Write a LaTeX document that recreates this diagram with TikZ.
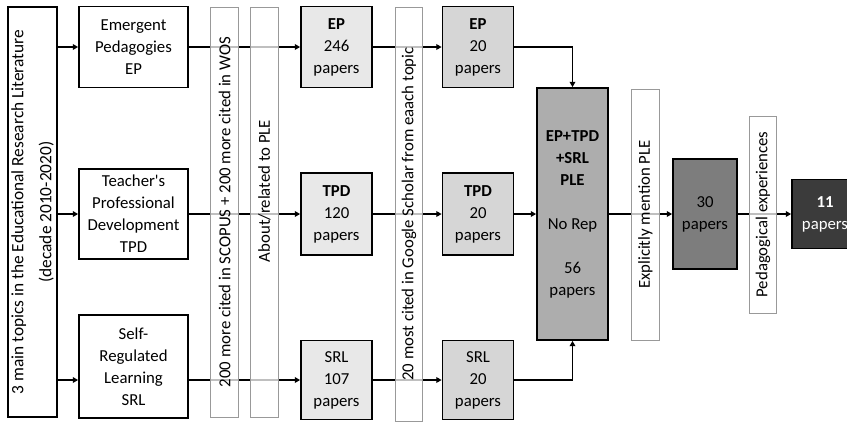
\documentclass[tikz,border=0pt]{standalone}
\usepackage{fontspec}
\setmainfont{Carlito}
\usepackage{tikz}
\usetikzlibrary{positioning, arrows.meta}
\definecolor{boxlight}{gray}{0.91}
\definecolor{boxmid}{gray}{0.84}
\definecolor{boxall}{gray}{0.68}
\definecolor{boxthirty}{gray}{0.49}
\definecolor{boxfinal}{gray}{0.23}
\definecolor{filterline}{gray}{0.6}

\begin{document}
\begin{tikzpicture}[
    stage/.style={
        rectangle,
        draw=black,
        line width=1.5pt,
        fill=white,
        align=center,
        font=\fontsize{14.3}{18.8}\selectfont,
        inner sep=2pt,
    },
    topic/.style={stage, minimum width=3.27cm},
    count/.style={stage, fill=boxlight, minimum width=2.13cm, minimum height=2.43cm},
    pick/.style={count, fill=boxmid},
    filter/.style={
        rectangle,
        draw=filterline,
        line width=0.6pt,
        fill=white,
        fill opacity=0.75,
        text opacity=1,
        rotate=90,
        align=center,
        minimum height=0.82cm,
        font=\fontsize{14.3}{18.8}\selectfont,
    },
    flow/.style={-{Triangle[length=1.6mm, width=1.7mm]}, line width=1.2pt},
    link/.style={line width=1.2pt}
]
\useasboundingbox (0,0) rectangle (25.41,-12.69);

\node[stage, rotate=90, minimum width=12.3cm, minimum height=1.47cm,
      font=\fontsize{14.8}{24}\selectfont] (Lit) at (0.975,-6.36) {%
  3 main topics in the  Educational Research Literature\\
  (decade 2010-2020)%
};

\node[topic, minimum height=2.43cm] (EP) at (4.005,-1.41) {Emergent\\Pedagogies\\EP};
\node[topic, minimum height=2.7cm] (TPD) at (4.005,-6.42) {Teacher\textquotesingle s\\Professional\\Development\\TPD};
\node[topic, minimum height=3.09cm] (SRL) at (4.005,-11.0) {Self-\\Regulated\\Learning\\SRL};

\node[count] (EPa) at (10.095,-1.41) {\textbf{EP}\\246\\papers};
\node[count, minimum height=2.46cm] (TPDa) at (10.095,-6.42) {\textbf{TPD}\\120\\papers};
\node[count, minimum height=2.37cm] (SRLa) at (10.095,-11.4) {SRL\\107\\papers};

\node[pick] (EPb) at (14.34,-1.41) {\textbf{EP}\\20\\papers};
\node[pick, minimum height=2.46cm] (TPDb) at (14.34,-6.42) {\textbf{TPD}\\20\\papers};
\node[pick, minimum height=2.37cm] (SRLb) at (14.34,-11.4) {SRL\\20\\papers};

\node[stage, fill=boxall, minimum width=2.13cm, minimum height=7.56cm] (All) at (17.175,-6.42) {%
  \textbf{EP+TPD}\\\textbf{+SRL}\\\textbf{PLE}\\[18.8pt]
  No Rep\\[18.8pt]
  56\\papers%
};
\node[stage, fill=boxthirty, minimum width=1.92cm, minimum height=3.3cm] (Ex) at (21.15,-6.42) {30\\papers};
\node[stage, fill=boxfinal, text=white, minimum width=1.98cm, minimum height=2.07cm] (Ped) at (24.75,-6.42) {\textbf{11}\\papers};

\draw[flow] (Lit.south |- EP) -- (EP.west);
\draw[flow] (Lit.south |- TPD) -- (TPD.west);
\draw[flow] (Lit.south |- SRLa) -- (SRL.west |- SRLa);

\draw[flow] (EP) -- (EPa);
\draw[flow] (TPD) -- (TPDa);
\draw[flow] (SRL.east |- SRLa) -- (SRLa);

\draw[flow] (EPa) -- (EPb);
\draw[flow] (TPDa) -- (TPDb);
\draw[flow] (SRLa) -- (SRLb);

\draw[flow] (EPb.east) -| (All.north);
\draw[flow] (TPDb) -- (All);
\draw[flow] (SRLb.east) -| (All.south);

\draw[flow] (All) -- (Ex);
\draw[flow] (Ex) -- (Ped);

\node[filter, minimum width=12.3cm] (Scopus) at (6.735,-6.36) {200 more cited in SCOPUS + 200 more cited in WOS};
\node[filter, minimum width=12.3cm] (About) at (7.935,-6.36) {\hspace*{1.26cm}About/related to PLE};
\node[filter, minimum width=12.42cm] (Scholar) at (12.27,-6.42) {20 most cited in Google Scholar from eaach topic};
\node[filter, minimum width=7.53cm] (Mention) at (19.365,-6.435) {Explicitly mention PLE};
\node[filter, minimum width=5.91cm] (Exp) at (22.89,-6.435) {Pedagogical experiences};
\end{tikzpicture}
\end{document}
